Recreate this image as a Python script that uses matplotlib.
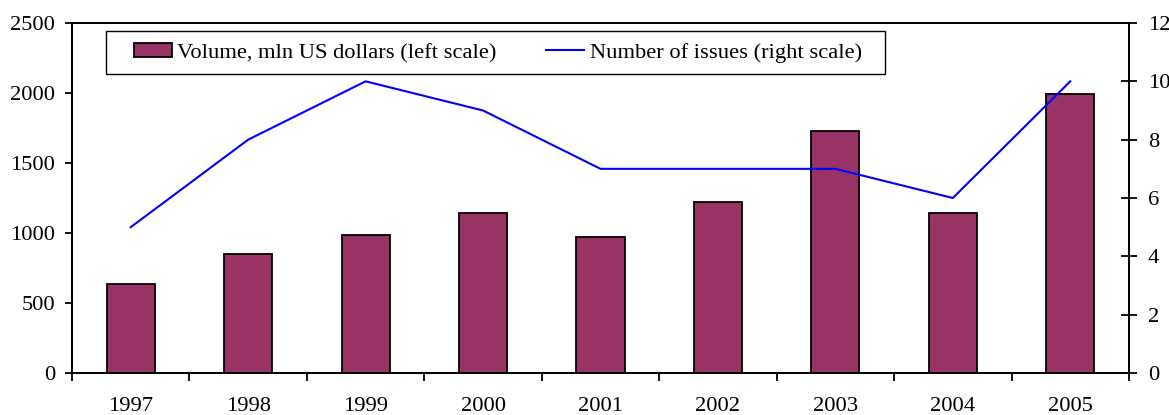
import numpy as np
import matplotlib.pyplot as plt
from matplotlib.patches import Rectangle
from matplotlib.ticker import FixedLocator, NullFormatter

plt.rcParams['font.family'] = ['Liberation Serif', 'DejaVu Serif']
plt.rcParams['font.size'] = 16.2

# Data
years = ['1997', '1998', '1999', '2000', '2001', '2002', '2003', '2004', '2005']
volume = [635, 850, 985, 1140, 970, 1220, 1730, 1145, 1990]
issues = [5, 8, 10, 9, 7, 7, 7, 6, 10]

W, H = 1169, 415
fig = plt.figure(figsize=(W / 100, H / 100), dpi=100)
ax = fig.add_axes([72 / W, 1 - 373 / H, (1129 - 72) / W, (373 - 23) / H])
x = np.arange(len(years))

bars = ax.bar(x, volume, width=0.41, color='#993366', edgecolor='black', linewidth=1.3,
              label='Volume, mln US dollars (left scale)', zorder=2)
ax.set_xlim(-0.5, len(years) - 0.5)
ax.set_ylim(0, 2500)
ax.set_yticks(np.arange(0, 2501, 500))
ax.set_xticks(x)
ax.set_xticklabels(years)
ax.tick_params(axis='x', length=0, pad=17)
ax.xaxis.set_minor_locator(FixedLocator(np.arange(-0.5, len(years), 1.0)))
ax.xaxis.set_minor_formatter(NullFormatter())
ax.tick_params(axis='x', which='minor', length=6, width=1.3, direction='out')
ax.tick_params(axis='y', length=5, width=1.3, direction='out', pad=7)
for s in ax.spines.values():
    s.set_linewidth(1.4)

ax2 = ax.twinx()
line, = ax2.plot(x, issues, color='#0000ff', linewidth=1.5,
                 label='Number of issues (right scale)', zorder=3)
ax2.set_ylim(0, 12)
ax2.set_yticks(np.arange(0, 13, 2))
ax2.tick_params(axis='y', length=11, width=1.3, direction='inout', pad=8)
for s in ax2.spines.values():
    s.set_linewidth(1.4)

# legend frame drawn as a box, entries placed inside it
fig.patches.append(Rectangle((106 / W, 1 - 74 / H), (885 - 106) / W, (74 - 31) / H,
                             transform=fig.transFigure, facecolor='white',
                             edgecolor='black', linewidth=1.0, zorder=4))
leg = fig.legend([bars, line], [bars.get_label(), line.get_label()], ncol=2,
                 loc='center left', bbox_to_anchor=(134 / W, 1 - 53 / H),
                 frameon=False, handlelength=1.69, handleheight=0.62,
                 columnspacing=2.2, borderpad=0, handletextpad=0.24,
                 borderaxespad=0)
leg.set_zorder(5)

fig.savefig('out.png', dpi=100)
